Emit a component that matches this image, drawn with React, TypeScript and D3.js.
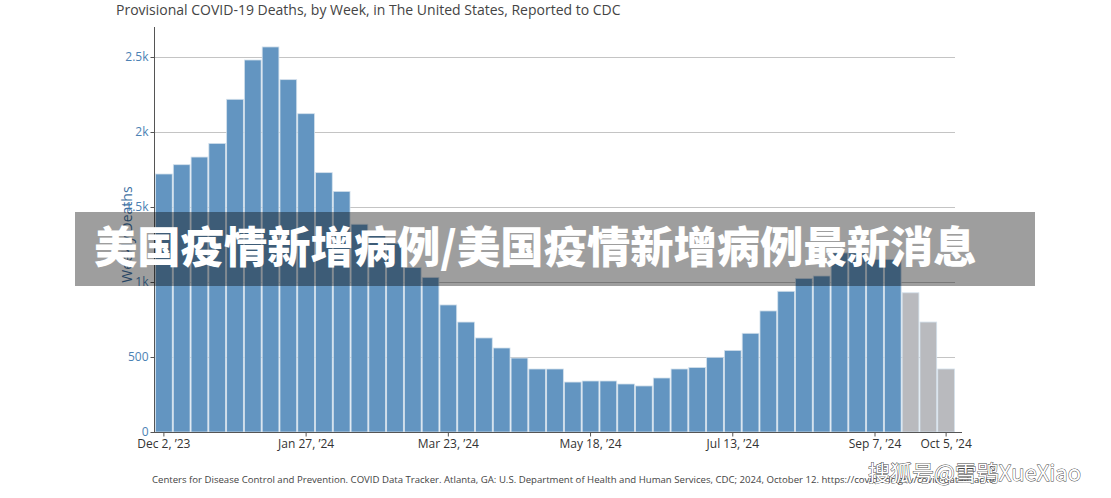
import React, { useRef, useEffect } from "react";
import * as d3 from "d3";

// weekly categories (week ending)
const weeks = [
  "Dec 2, ’23", "Dec 9, ’23", "Dec 16, ’23", "Dec 23, ’23", "Dec 30, ’23",
  "Jan 6, ’24", "Jan 13, ’24", "Jan 20, ’24", "Jan 27, ’24",
  "Feb 3, ’24", "Feb 10, ’24", "Feb 17, ’24", "Feb 24, ’24",
  "Mar 2, ’24", "Mar 9, ’24", "Mar 16, ’24", "Mar 23, ’24", "Mar 30, ’24",
  "Apr 6, ’24", "Apr 13, ’24", "Apr 20, ’24", "Apr 27, ’24",
  "May 4, ’24", "May 11, ’24", "May 18, ’24", "May 25, ’24",
  "Jun 1, ’24", "Jun 8, ’24", "Jun 15, ’24", "Jun 22, ’24", "Jun 29, ’24",
  "Jul 6, ’24", "Jul 13, ’24", "Jul 20, ’24", "Jul 27, ’24",
  "Aug 3, ’24", "Aug 10, ’24", "Aug 17, ’24", "Aug 24, ’24", "Aug 31, ’24",
  "Sep 7, ’24", "Sep 14, ’24", "Sep 21, ’24", "Sep 28, ’24", "Oct 5, ’24",
];

const deaths = [
  1720, 1782, 1833, 1924, 2218,
  2480, 2567, 2349, 2122,
  1729, 1604, 1385, 1320,
  1258, 1096, 1031, 847, 733,
  627, 560, 493, 420,
  420, 333, 340, 340,
  320, 307, 360, 420, 430,
  498, 544, 658, 807,
  938, 1024, 1040, 1194, 1194,
  1151, 1151, 928, 733, 420,
];

// last weeks are still incomplete (shown in gray)
const incomplete = ["Sep 21, ’24", "Sep 28, ’24", "Oct 5, ’24"];

const xTickLabels = ["Dec 2, ’23", "Jan 27, ’24", "Mar 23, ’24", "May 18, ’24", "Jul 13, ’24", "Sep 7, ’24", "Oct 5, ’24"];
const yTicks = [0, 500, 1000, 1500, 2000, 2500];
const yTickLabels = ["0", "500", "1k", "1.5k", "2k", "2.5k"];

const title = "Provisional COVID-19 Deaths, by Week, in The United States, Reported to CDC";
const source =
  "Centers for Disease Control and Prevention. COVID Data Tracker. Atlanta, GA: U.S. Department of Health and Human Services, CDC; 2024, October 12. https://covid.cdc.gov/covid-data-tracker";
const banner = "美国疫情新增病例/美国疫情新增病例最新消息";
const watermark = "搜狐号@雪鸮XueXiao";

const W = 1111;
const H = 498;

const App = () => {
  const svgRef = useRef<SVGSVGElement>(null);

  useEffect(() => {
    const svg = d3.select(svgRef.current);
    svg.selectAll("*").remove();

    const margin = { top: 27, bottom: 66, left: 155, right: 156 };
    const plotBottom = H - margin.bottom;

    const x = d3
      .scaleBand()
      .domain(weeks)
      .range([margin.left, W - margin.right])
      .paddingInner(0.06)
      .paddingOuter(0.03);

    const y = d3.scaleLinear().domain([0, 2700]).range([plotBottom, margin.top]);

    const font = "'Open Sans', 'Noto Sans', sans-serif";

    // title
    svg
      .append("text")
      .attr("x", 116)
      .attr("y", 15)
      .style("font-family", font)
      .style("font-size", "14px")
      .attr("fill", "#444")
      .text(title);

    // gridlines
    svg
      .append("g")
      .selectAll("line")
      .data(yTicks.filter((d) => d > 0))
      .join("line")
      .attr("x1", margin.left)
      .attr("x2", W - margin.right)
      .attr("y1", (d) => y(d) + 0.5)
      .attr("y2", (d) => y(d) + 0.5)
      .attr("stroke", "#c4c4c4")
      .attr("stroke-width", 1);

    // bars
    svg
      .append("g")
      .selectAll("rect")
      .data(weeks)
      .join("rect")
      .attr("x", (d) => x(d)!)
      .attr("width", x.bandwidth())
      .attr("y", (d, i) => y(deaths[i]))
      .attr("height", (d, i) => plotBottom - y(deaths[i]))
      .attr("fill", (d) => (incomplete.includes(d) ? "#b9babe" : "#6395c1"))
      .attr("stroke", "#d3e0ec")
      .attr("stroke-width", 0.8);

    // y axis
    const yAxis = svg
      .append("g")
      .attr("transform", `translate(${margin.left - 0.5},0)`)
      .call(
        d3
          .axisLeft(y)
          .tickValues(yTicks)
          .tickSize(4)
          .tickPadding(2)
          .tickFormat((d, i) => yTickLabels[i])
      );
    yAxis.select(".domain").attr("stroke", "#555").attr("d", `M0,${margin.top}V${plotBottom}`);
    yAxis.selectAll(".tick line").attr("stroke", "#555");
    yAxis
      .selectAll(".tick text")
      .attr("fill", "#4c82b4")
      .style("font-family", font)
      .style("font-size", "12px");

    svg
      .append("text")
      .attr("transform", `translate(132,${(margin.top + plotBottom) / 2 + 5}) rotate(-90)`)
      .attr("text-anchor", "middle")
      .style("font-family", font)
      .style("font-size", "14px")
      .attr("fill", "#3f72a3")
      .text("Weekly Deaths");

    // x axis
    const xAxis = svg
      .append("g")
      .attr("transform", `translate(0,${plotBottom + 0.5})`)
      .call(d3.axisBottom(x).tickValues(xTickLabels).tickSize(4).tickPadding(3));
    xAxis.select(".domain").attr("stroke", "#555").attr("d", `M${margin.left - 1},0H${W - margin.right + 7}`);
    xAxis.selectAll(".tick line").attr("stroke", "#555");
    xAxis
      .selectAll(".tick text")
      .attr("fill", "#333")
      .style("font-family", font)
      .style("font-size", "12px");

    // source note
    svg
      .append("text")
      .attr("x", 152)
      .attr("y", 483)
      .style("font-family", font)
      .style("font-size", "9.6px")
      .attr("fill", "#444")
      .text(source);

    // overlay banner
    svg
      .append("rect")
      .attr("x", 75)
      .attr("y", 212)
      .attr("width", 960)
      .attr("height", 74)
      .attr("fill", "rgba(0,0,0,0.38)");

    svg
      .append("text")
      .attr("x", 94)
      .attr("y", 263)
      .style("font-family", "'Noto Sans CJK SC', sans-serif")
      .style("font-weight", 900)
      .style("font-size", "43.3px")
      .attr("fill", "#fff")
      .text(banner);

    // watermark
    svg
      .append("text")
      .attr("x", 868)
      .attr("y", 481)
      .style("font-family", "'Noto Sans CJK SC', sans-serif")
      .style("font-size", "22px")
      .attr("fill", "#fff")
      .attr("stroke", "#444")
      .attr("stroke-width", 0.9)
      .attr("paint-order", "stroke")
      .text(watermark);
  }, []);

  return (
    <svg
      ref={svgRef}
      width={W}
      height={H}
      style={{ position: "absolute", left: 0, top: 0, background: "#fff" }}
    ></svg>
  );
};

export default App;
